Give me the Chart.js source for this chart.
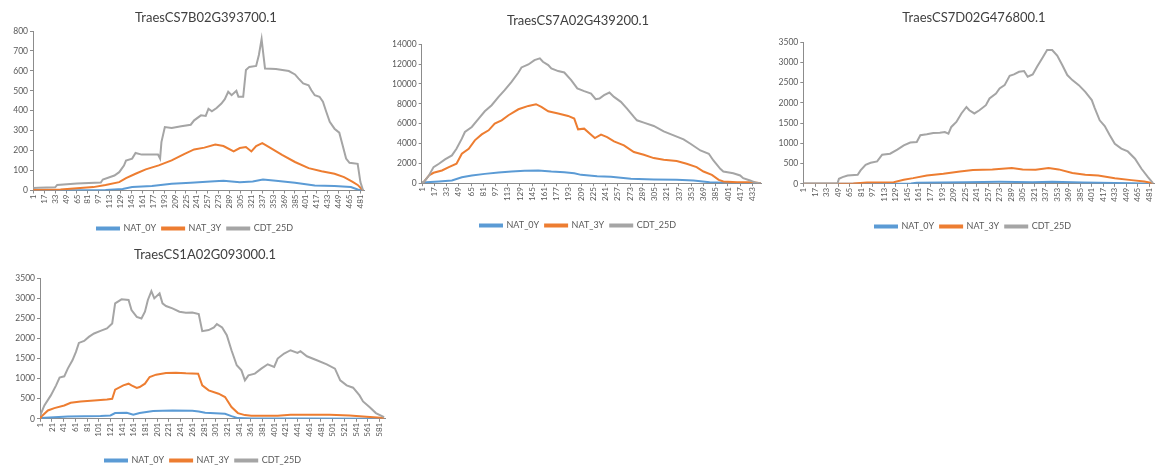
<!DOCTYPE html>
<html>
<head>
<meta charset="utf-8">
<script src="https://cdn.jsdelivr.net/npm/chart.js@4"></script>
<style>
  html, body { margin: 0; padding: 0; background: #fff; overflow: hidden; }
  body { width: 1165px; height: 471px; position: relative; }
  .box { position: absolute; }
</style>
</head>
<body>
<div class="box" id="b1" style="left:0px;top:0px;width:371px;height:243px"><canvas id="c1"></canvas></div>
<div class="box" id="b2" style="left:393px;top:0px;width:370px;height:240px"><canvas id="c2"></canvas></div>
<div class="box" id="b3" style="left:771px;top:0px;width:389px;height:241px"><canvas id="c3"></canvas></div>
<div class="box" id="b4" style="left:0px;top:235px;width:390px;height:240px"><canvas id="c4"></canvas></div>
<script>
const seriesNames = ["NAT_0Y", "NAT_3Y", "CDT_25D"];
const seriesColors = ["#5B9BD5", "#ED7D31", "#A5A5A5"];

// TraesCS7B02G393700.1
const gene1Title = "TraesCS7B02G393700.1";
const gene1Count = 486;
const gene1Ticks = [1, 17, 33, 49, 65, 81, 97, 113, 129, 145, 161, 177, 193, 209, 225, 241, 257, 273, 289, 305, 321, 337, 353, 369, 385, 401, 417, 433, 449, 465, 481];
const gene1Nat0X = [1, 107, 132, 146, 175, 204, 232, 261, 280, 304, 323, 338, 357, 385, 414, 443, 467, 477, 485];
const gene1Nat0Y = [1, 3, 8, 17, 22, 34, 39, 45, 49, 42, 45, 55, 49, 39, 25, 22, 17, 5, 0];
const gene1Nat3X = [1, 41, 89, 107, 127, 137, 151, 166, 185, 204, 223, 237, 252, 268, 280, 295, 304, 313, 321, 328, 337, 347, 366, 385, 405, 424, 443, 457, 469, 477, 485];
const gene1Nat3Y = [3, 5, 17, 28, 42, 62, 84, 106, 126, 151, 184, 206, 215, 231, 223, 196, 213, 218, 196, 223, 238, 218, 179, 143, 112, 97, 84, 67, 45, 28, 0];
const gene1CdtX = [1, 8, 33, 36, 65, 100, 103, 120, 127, 134, 137, 146, 151, 160, 184, 187, 189, 194, 204, 218, 232, 237, 247, 254, 258, 263, 270, 277, 282, 287, 292, 299, 302, 309, 313, 318, 328, 332, 336, 339, 341, 357, 376, 385, 390, 397, 405, 409, 414, 421, 426, 431, 436, 443, 450, 455, 460, 465, 477, 481, 485];
const gene1CdtY = [12, 14, 16, 28, 35, 40, 55, 75, 92, 125, 150, 160, 188, 180, 180, 160, 243, 318, 313, 322, 330, 352, 377, 374, 410, 397, 414, 436, 458, 495, 478, 500, 470, 470, 604, 620, 625, 680, 760, 670, 612, 609, 599, 582, 562, 537, 528, 503, 478, 470, 445, 394, 344, 310, 290, 226, 160, 139, 134, 42, 0];

// TraesCS7A02G439200.1
const gene2Title = "TraesCS7A02G439200.1";
const gene2Count = 445;
const gene2Ticks = [1, 17, 33, 49, 65, 81, 97, 113, 129, 145, 161, 177, 193, 209, 225, 241, 257, 273, 289, 305, 321, 337, 353, 369, 385, 401, 417, 433];
const gene2Nat0X = [1, 23, 40, 53, 66, 83, 101, 118, 135, 153, 170, 187, 200, 209, 230, 248, 274, 304, 334, 356, 377, 395, 444];
const gene2Nat0Y = [70, 170, 270, 600, 780, 940, 1080, 1180, 1250, 1280, 1180, 1110, 1010, 840, 710, 640, 440, 370, 340, 270, 100, 34, 0];
const gene2Nat3X = [1, 3, 10, 16, 27, 36, 46, 53, 62, 70, 79, 88, 96, 105, 114, 127, 140, 150, 157, 166, 179, 192, 200, 205, 213, 222, 227, 235, 243, 252, 265, 278, 291, 304, 317, 334, 347, 360, 369, 380, 389, 395, 413, 434, 444];
const gene2Nat3Y = [0, 100, 776, 1050, 1280, 1620, 1960, 2970, 3470, 4320, 4920, 5330, 6000, 6340, 6850, 7450, 7790, 7960, 7690, 7250, 7020, 6780, 6510, 5430, 5500, 4890, 4550, 4890, 4650, 4220, 3810, 3140, 2870, 2530, 2360, 2230, 1960, 1620, 1180, 840, 340, 170, 100, 100, 0];
const gene2CdtX = [1, 3, 10, 16, 23, 31, 40, 46, 53, 57, 66, 75, 83, 92, 101, 109, 118, 127, 131, 140, 148, 155, 159, 166, 170, 179, 187, 196, 204, 213, 222, 228, 233, 239, 246, 252, 261, 269, 278, 282, 291, 304, 317, 330, 343, 352, 365, 376, 382, 391, 395, 408, 417, 421, 430, 438, 444];
const gene2CdtY = [0, 100, 776, 1620, 1960, 2400, 2800, 3470, 4490, 5160, 5670, 6510, 7250, 7860, 8700, 9380, 10220, 11160, 11670, 11970, 12410, 12580, 12240, 11910, 11570, 11300, 11160, 10390, 9550, 9280, 9040, 8470, 8530, 8870, 9140, 8700, 8200, 7520, 6680, 6340, 6100, 5770, 5230, 4820, 4420, 3980, 3300, 2970, 2290, 1450, 1180, 1010, 780, 506, 270, 34, 0];

// TraesCS7D02G476800.1
const gene3Title = "TraesCS7D02G476800.1";
const gene3Count = 488;
const gene3Ticks = [1, 17, 33, 49, 65, 81, 97, 113, 129, 145, 161, 177, 193, 209, 225, 241, 257, 273, 289, 305, 321, 337, 353, 369, 385, 401, 417, 433, 449, 465, 481];
const gene3Nat0X = [1, 150, 158, 227, 273, 319, 346, 388, 456, 486];
const gene3Nat0Y = [2, 5, 25, 41, 50, 41, 50, 33, 15, 0];
const gene3Nat3X = [1, 70, 89, 126, 140, 153, 172, 195, 218, 236, 263, 290, 305, 323, 341, 355, 374, 392, 410, 433, 456, 474, 486];
const gene3Nat3Y = [2, 5, 33, 41, 100, 140, 207, 248, 306, 340, 356, 389, 356, 348, 389, 356, 265, 223, 207, 140, 91, 58, 15];
const gene3CdtX = [1, 48, 50, 55, 62, 76, 80, 87, 94, 103, 110, 121, 131, 140, 149, 158, 163, 172, 181, 190, 197, 202, 206, 213, 220, 227, 231, 238, 245, 254, 259, 268, 273, 280, 287, 293, 300, 307, 312, 319, 325, 332, 339, 346, 353, 360, 367, 374, 383, 392, 401, 405, 412, 419, 426, 433, 442, 451, 461, 470, 479, 486];
const gene3CdtY = [5, 10, 124, 165, 207, 223, 330, 470, 520, 555, 720, 745, 845, 950, 1020, 1035, 1200, 1225, 1257, 1265, 1280, 1240, 1407, 1530, 1740, 1900, 1820, 1740, 1820, 1945, 2110, 2234, 2360, 2440, 2672, 2705, 2770, 2790, 2648, 2705, 2896, 3100, 3310, 3310, 3170, 2940, 2690, 2565, 2440, 2275, 2070, 1880, 1570, 1430, 1200, 990, 870, 800, 620, 372, 165, 15];

// TraesCS1A02G093000.1
const gene4Title = "TraesCS1A02G093000.1";
const gene4Count = 591;
const gene4Ticks = [1, 21, 41, 61, 81, 101, 121, 141, 161, 181, 201, 221, 241, 261, 281, 301, 321, 341, 361, 381, 401, 421, 441, 461, 481, 501, 521, 541, 561, 581];
const gene4Nat0X = [1, 48, 104, 121, 129, 149, 160, 171, 194, 227, 261, 272, 283, 317, 328, 339, 362, 450, 589];
const gene4Nat0Y = [17, 58, 67, 83, 142, 150, 100, 142, 192, 208, 200, 183, 150, 125, 67, 17, 5, 5, 0];
const gene4Nat3X = [1, 2, 14, 25, 42, 53, 70, 93, 115, 124, 129, 143, 152, 157, 166, 171, 180, 188, 199, 216, 233, 250, 271, 278, 289, 306, 317, 328, 339, 351, 362, 407, 429, 496, 530, 553, 589];
const gene4Nat3Y = [20, 42, 208, 267, 333, 400, 433, 458, 483, 500, 725, 833, 875, 833, 767, 792, 875, 1042, 1100, 1142, 1150, 1133, 1125, 833, 708, 625, 542, 292, 142, 92, 75, 75, 100, 100, 83, 58, 17];
const gene4CdtX = [1, 2, 8, 19, 28, 34, 42, 48, 56, 62, 67, 76, 84, 93, 104, 115, 124, 129, 140, 152, 157, 166, 174, 180, 185, 191, 196, 205, 210, 216, 227, 239, 250, 261, 272, 278, 289, 298, 303, 312, 320, 328, 337, 345, 351, 357, 368, 379, 390, 401, 407, 418, 429, 441, 446, 457, 474, 491, 505, 514, 525, 536, 547, 553, 564, 575, 589];
const gene4CdtY = [100, 125, 333, 583, 833, 1025, 1058, 1250, 1458, 1667, 1890, 1940, 2040, 2125, 2190, 2250, 2375, 2875, 2975, 2960, 2710, 2540, 2500, 2667, 2960, 3180, 3000, 3125, 2875, 2810, 2750, 2667, 2640, 2650, 2610, 2183, 2210, 2275, 2360, 2275, 2083, 1708, 1333, 1208, 958, 1083, 1125, 1250, 1358, 1292, 1500, 1625, 1708, 1640, 1683, 1558, 1458, 1358, 1250, 958, 833, 775, 583, 433, 292, 142, 42];

const axisColor = "#8c8c8c";
const textColor = "#595959";
const fontFamily = "Lato, 'Open Sans', sans-serif";

// nudges title / legend sideways after Chart.js has laid them out
const shiftPlugin = {
  id: "shift",
  afterLayout(chart, args, opts) {
    if (chart.titleBlock && opts.title) {
      chart.titleBlock.left += opts.title;
      chart.titleBlock.right += opts.title;
    }
    if (chart.legend && opts.legend) {
      chart.legend.left += opts.legend;
      chart.legend.right += opts.legend;
    }
  }
};

function pts(xs, ys) {
  return xs.map((x, i) => ({ x: x, y: ys[i] }));
}

function makeChart(id, g, lay) {
  const series = [[g.n0x, g.n0y], [g.n3x, g.n3y], [g.cx, g.cy]];
  const datasets = series.map((s, i) => ({
    label: seriesNames[i],
    data: pts(s[0], s[1]),
    borderColor: seriesColors[i],
    backgroundColor: seriesColors[i],
    borderWidth: 2,
    pointRadius: 0,
    tension: 0,
    fill: false,
    order: 2 - i,
  }));

  return new Chart(document.getElementById(id), {
    type: "line",
    data: { datasets: datasets },
    plugins: [shiftPlugin],
    options: {
      responsive: true,
      maintainAspectRatio: false,
      animation: false,
      layout: { padding: 0 },
      plugins: {
        shift: { title: lay.titleDx, legend: lay.legendDx },
        tooltip: { enabled: false },
        title: {
          display: true,
          text: g.title,
          color: "#404040",
          font: { family: fontFamily, size: 13, weight: "normal" },
          padding: { top: lay.titleTop, bottom: lay.titleBottom },
        },
        legend: {
          position: "bottom",
          labels: {
            color: textColor,
            font: { family: fontFamily, size: 9 },
            boxWidth: 22,
            boxHeight: 2,
            padding: 6,
            sort: (a, b) => a.datasetIndex - b.datasetIndex,
          },
        },
      },
      scales: {
        x: {
          type: "linear",
          min: 0.5,
          max: g.count + 0.5,
          afterBuildTicks: (axis) => {
            axis.ticks = g.ticks.map((v) => ({ value: v }));
          },
          afterFit: (s) => { s.height = lay.xHeight; },
          ticks: {
            autoSkip: false,
            minRotation: 90,
            maxRotation: 90,
            color: textColor,
            padding: 1,
            font: { family: fontFamily, size: 8 },
            callback: (v) => String(v),
          },
          grid: { drawOnChartArea: false, tickLength: 3, color: axisColor },
          border: { color: axisColor, width: 1 },
        },
        y: {
          min: 0,
          max: g.max,
          afterFit: (s) => { s.width = lay.yWidth; },
          ticks: {
            stepSize: g.step,
            color: textColor,
            padding: 2,
            font: { family: fontFamily, size: 8.5 },
            callback: (v) => String(v),
          },
          grid: { drawOnChartArea: false, tickLength: 3, color: axisColor },
          border: { color: axisColor, width: 1 },
        },
      },
    },
  });
}

makeChart("c1", {
  title: gene1Title, count: gene1Count, ticks: gene1Ticks, max: 800, step: 100,
  n0x: gene1Nat0X, n0y: gene1Nat0Y, n3x: gene1Nat3X, n3y: gene1Nat3Y, cx: gene1CdtX, cy: gene1CdtY,
}, { yWidth: 33, xHeight: 27.5, titleTop: 10.5, titleBottom: 4.9, titleDx: 20.5, legendDx: 9.5 });

makeChart("c2", {
  title: gene2Title, count: gene2Count, ticks: gene2Ticks, max: 14000, step: 2000,
  n0x: gene2Nat0X, n0y: gene2Nat0Y, n3x: gene2Nat3X, n3y: gene2Nat3Y, cx: gene2CdtX, cy: gene2CdtY,
}, { yWidth: 28.7, xHeight: 31.8, titleTop: 12.9, titleBottom: 15.8, titleDx: 0, legendDx: 0 });

makeChart("c3", {
  title: gene3Title, count: gene3Count, ticks: gene3Ticks, max: 3500, step: 500,
  n0x: gene3Nat0X, n0y: gene3Nat0Y, n3x: gene3Nat3X, n3y: gene3Nat3Y, cx: gene3CdtX, cy: gene3CdtY,
}, { yWidth: 32.3, xHeight: 32.2, titleTop: 10.5, titleBottom: 16.2, titleDx: 8.5, legendDx: 7.5 });

makeChart("c4", {
  title: gene4Title, count: gene4Count, ticks: gene4Ticks, max: 3500, step: 500,
  n0x: gene4Nat0X, n0y: gene4Nat0Y, n3x: gene4Nat3X, n3y: gene4Nat3Y, cx: gene4CdtX, cy: gene4CdtY,
}, { yWidth: 40, xHeight: 31.2, titleTop: 12.2, titleBottom: 15.5, titleDx: 10, legendDx: 8 });
</script>
</body>
</html>
